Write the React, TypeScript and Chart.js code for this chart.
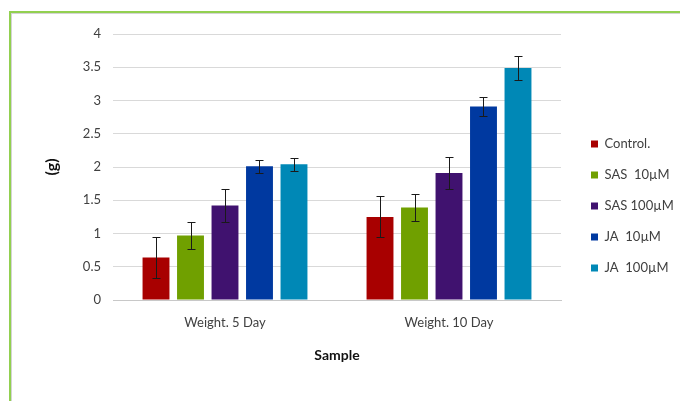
import React, { useEffect, useRef } from 'react';
import { Chart, registerables } from 'chart.js';

Chart.register(...registerables);

const categories = ['Weight. 5 Day', 'Weight. 10 Day'];
const seriesNames = ['Control.', 'SAS  10µM', 'SAS 100µM', 'JA  10µM', 'JA  100µM'];
const seriesColors = ['#A80000', '#70A000', '#40126F', '#0039A0', '#0088B6'];

const controlValues = [0.64, 1.25];
const sas10Values = [0.97, 1.39];
const sas100Values = [1.42, 1.91];
const ja10Values = [2.01, 2.91];
const ja100Values = [2.04, 3.49];

const controlErrors = [0.31, 0.31];
const sas10Errors = [0.21, 0.2];
const sas100Errors = [0.25, 0.24];
const ja10Errors = [0.1, 0.14];
const ja100Errors = [0.1, 0.18];

const seriesValues = [controlValues, sas10Values, sas100Values, ja10Values, ja100Values];
const seriesErrors = [controlErrors, sas10Errors, sas100Errors, ja10Errors, ja100Errors];

const FONT = 'Lato, "Liberation Sans", sans-serif';

const errorBarPlugin = {
  id: 'errorBars',
  afterDatasetsDraw(chart: any) {
    const ctx = chart.ctx;
    const yScale = chart.scales.y;
    chart.data.datasets.forEach((ds: any, i: number) => {
      const meta = chart.getDatasetMeta(i);
      const errs = seriesErrors[i];
      meta.data.forEach((bar: any, j: number) => {
        const v = ds.data[j];
        const e = errs[j];
        const x = Math.round(bar.x) + 0.5;
        const top = Math.round(yScale.getPixelForValue(v + e)) + 0.5;
        const bot = Math.round(yScale.getPixelForValue(v - e)) + 0.5;
        ctx.save();
        ctx.strokeStyle = '#1a1a1a';
        ctx.lineWidth = 1;
        ctx.beginPath();
        ctx.moveTo(x, top);
        ctx.lineTo(x, bot);
        ctx.moveTo(x - 4, top);
        ctx.lineTo(x + 4, top);
        ctx.moveTo(x - 4, bot);
        ctx.lineTo(x + 4, bot);
        ctx.stroke();
        ctx.restore();
      });
    });
  },
};

export default function App() {
  const canvasRef = useRef<HTMLCanvasElement | null>(null);

  useEffect(() => {
    if (!canvasRef.current) return;
    const chart = new Chart(canvasRef.current, {
      type: 'bar',
      data: {
        labels: categories,
        datasets: seriesNames.map((name, i) => ({
          label: name,
          data: seriesValues[i],
          backgroundColor: seriesColors[i],
          borderWidth: 0,
          categoryPercentage: 0.77,
          barPercentage: 0.78,
        })),
      },
      options: {
        animation: false,
        responsive: false,
        maintainAspectRatio: false,
        layout: { padding: { top: 34, left: 0, right: 0, bottom: 23 } },
        plugins: {
          tooltip: { enabled: false },
          legend: {
            position: 'right',
            align: 'center',
            maxWidth: 107,
            labels: {
              boxWidth: 7,
              boxHeight: 7,
              padding: 18,
              color: '#404040',
              font: { family: FONT, size: 13 },
            },
          },
        },
        scales: {
          x: {
            grid: { display: false, drawTicks: false },
            border: { display: true, color: '#c8c8c8' },
            ticks: { color: '#404040', padding: 15, font: { family: FONT, size: 13 } },
            title: {
              display: true,
              text: 'Sample',
              color: '#111',
              font: { family: FONT, size: 14, weight: 'bold' },
              padding: { top: 0, bottom: 14.6 },
            },
            afterFit(scale: any) {
              scale.height = 78;
            },
          },
          y: {
            min: 0,
            max: 4,
            ticks: {
              stepSize: 0.5,
              color: '#404040',
              padding: 12,
              font: { family: FONT, size: 13 },
              callback: (v: any) => String(Number(v)),
            },
            grid: { color: '#d9d9d9', drawTicks: false },
            border: { display: false },
            title: {
              display: true,
              text: '(g)',
              color: '#111',
              font: { family: FONT, size: 16, weight: 'bold' },
              padding: { top: 42.4, bottom: 0 },
            },
            afterFit(scale: any) {
              scale.width = 113;
            },
          },
          y2: {
            type: 'linear',
            position: 'right',
            display: true,
            grid: { display: false, drawTicks: false },
            border: { display: false },
            ticks: { display: false },
            afterFit(scale: any) {
              scale.width = 12;
            },
          },
        },
      } as any,
      plugins: [errorBarPlugin],
    });
    return () => chart.destroy();
  }, []);

  return (
    <div style={{ position: 'fixed', left: 0, top: 0, width: 680, height: 401, overflow: 'hidden', background: '#fff' }}>
      <div
        style={{
          position: 'absolute',
          left: 9,
          top: 11,
          width: 720,
          height: 440,
          borderLeft: '2px solid #92D050',
          borderTop: '2px solid #92D050',
          boxShadow: 'inset 1px 1px 0 #d4d4d4',
        }}
      />
      <canvas ref={canvasRef} width={680} height={401} style={{ position: 'absolute', left: 0, top: 0, width: 680, height: 401 }} />
    </div>
  );
}
